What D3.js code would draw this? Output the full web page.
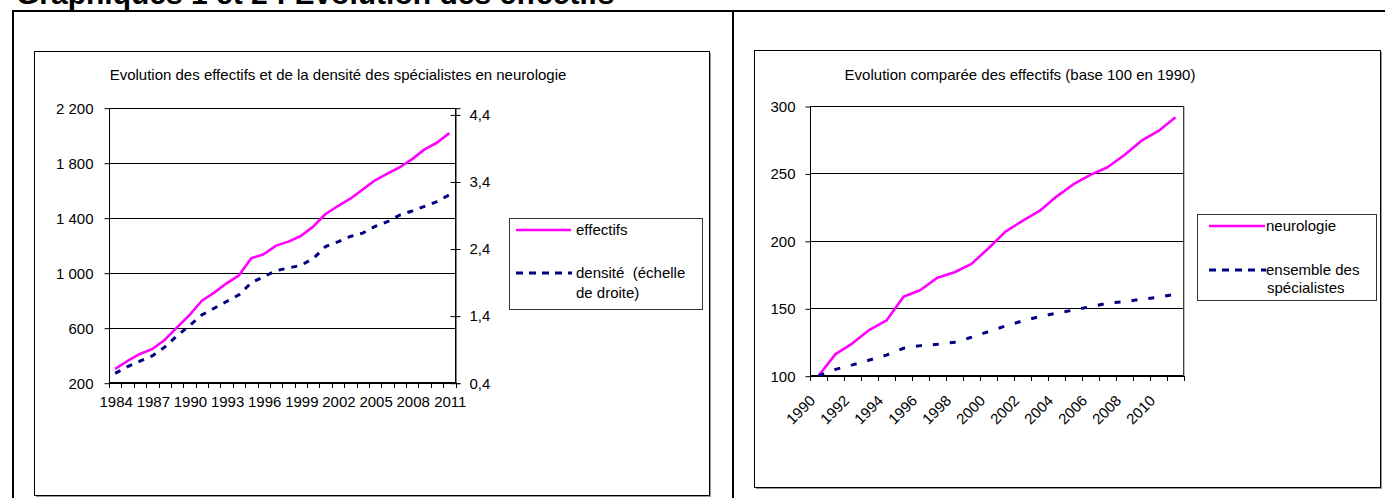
<!DOCTYPE html>
<html><head><meta charset="utf-8">
<script src="https://cdn.jsdelivr.net/npm/d3@7"></script>
<style>
html,body{margin:0;padding:0;background:#fff;overflow:hidden}
text{font-family:"Liberation Sans",Arial,sans-serif;fill:#000}
</style></head><body>
<svg id="c" width="1385" height="498"></svg>
<script>
// ---------- DATA ----------
const yearsLeft = [1984,1985,1986,1987,1988,1989,1990,1991,1992,1993,1994,1995,1996,1997,1998,1999,2000,2001,2002,2003,2004,2005,2006,2007,2008,2009,2010,2011];
const effectifs = [300,358,409,445,511,603,692,796,855,923,981,1105,1134,1197,1226,1267,1335,1427,1485,1538,1605,1672,1720,1767,1826,1897,1945,2015];
const densite   = [0.54,0.64,0.72,0.80,0.93,1.10,1.25,1.41,1.51,1.61,1.71,1.89,1.98,2.07,2.11,2.15,2.25,2.43,2.50,2.58,2.63,2.73,2.80,2.90,2.96,3.03,3.10,3.20];
const leftLabelYears = [1984,1987,1990,1993,1996,1999,2002,2005,2008,2011];
const leftTicks  = [200,600,1000,1400,1800,2200];
const rightTicks = [0.4,1.4,2.4,3.4,4.4];

const yearsRight = [1990,1991,1992,1993,1994,1995,1996,1997,1998,1999,2000,2001,2002,2003,2004,2005,2006,2007,2008,2009,2010,2011];
const neurologie = [100,116,124,134,141,158.6,163.6,172.7,176.7,182.9,194.5,206.8,214.8,222.2,232.8,242,248.9,254.6,263.7,274.3,281.5,291.7];
const ensemble   = [100,104.7,108,111.6,115.3,120.3,122.3,123.3,124.8,128.5,132.7,136.9,140.6,143.8,146.3,148.7,151.2,153.7,154.9,156.7,158.2,160.4];
const rightLabelYears = [1990,1992,1994,1996,1998,2000,2002,2004,2006,2008,2010];
const indexTicks = [100,150,200,250,300];

const pageTitle = "Graphiques 1 et 2 : Evolution des effectifs";
const title1 = "Evolution des effectifs et de la densité des spécialistes en neurologie";
const title2 = "Evolution comparée des effectifs (base 100 en 1990)";

// ---------- DRAW ----------
const svg = d3.select("#c");
const PINK = "#ff00ff", NAVY = "#000080";
const FS = 15;
const FF = "Liberation Sans, Arial, sans-serif";
const loc = d3.formatLocale({decimal:",", thousands:" ", grouping:[3], currency:["",""]});

svg.append("rect").attr("width",1385).attr("height",498).attr("fill","#fff");

// page header (cut by the top edge, as in the source)
svg.append("text").attr("x",16).attr("y",4).attr("font-size",30).attr("font-weight","bold").text(pageTitle);

// table lines
const tbl = svg.append("g").attr("stroke","#000").attr("stroke-width",2);
tbl.append("line").attr("x1",12).attr("x2",1385).attr("y1",11).attr("y2",11);
tbl.append("line").attr("x1",13).attr("x2",13).attr("y1",10).attr("y2",498);
tbl.append("line").attr("x1",733).attr("x2",733).attr("y1",10).attr("y2",498);

function chartBox(x0,y0,x1,y1){
  svg.append("rect").attr("x",x0+2).attr("y",y0+2).attr("width",x1-x0).attr("height",y1-y0).attr("fill","#999");
  svg.append("rect").attr("x",x0+0.5).attr("y",y0+0.5).attr("width",x1-x0).attr("height",y1-y0).attr("fill","#fff").attr("stroke","#000");
}
chartBox(34,51,709,495);
chartBox(754,50,1380,487);

// ======== LEFT CHART ========
{
  const x = d3.scaleBand().domain(yearsLeft).range([109,455.5]);
  const yL = d3.scaleLinear().domain([200,2200]).range([382.7,107.7]);
  const yR = d3.scaleLinear().domain([0.4,4.5]).range([382.7,107.7]);
  const g = svg.append("g");
  const cx = d => x(d) + x.bandwidth()/2;

  g.append("text").attr("x",338).attr("y",80).attr("text-anchor","middle").attr("font-size",FS).text(title1);

  g.append("g").selectAll("line").data(leftTicks).join("line")
    .attr("x1",109).attr("x2",455.5).attr("y1",d=>Math.round(yL(d))+0.5).attr("y2",d=>Math.round(yL(d))+0.5)
    .attr("stroke","#000").attr("stroke-width",1);
  g.append("rect").attr("x",109.5).attr("y",108.5).attr("width",346).attr("height",274).attr("fill","none").attr("stroke","#000");

  const ax = g.append("g").attr("transform","translate(109.5,0.5)")
    .call(d3.axisLeft(yL).tickValues(leftTicks).tickSize(5).tickPadding(11).tickFormat(loc.format(",")));
  ax.select(".domain").remove();
  ax.selectAll("line").attr("stroke","#000");
  ax.selectAll("text").attr("font-size",FS).attr("font-family",FF);

  const ar = g.append("g").attr("transform","translate(455.5,0.5)")
    .call(d3.axisRight(yR).tickValues(rightTicks).tickSize(5).tickPadding(9).tickFormat(loc.format(".1f")));
  ar.select(".domain").attr("stroke","#000");
  ar.selectAll(".tick line").attr("x1",-5).attr("x2",5).attr("stroke","#000");
  ar.selectAll("text").attr("font-size",FS).attr("font-family",FF);

  const bounds = yearsLeft.map(d=>x(d)).concat([x.range()[1]]);
  g.append("g").selectAll("line").data(bounds).join("line")
    .attr("x1",d=>Math.round(d)+0.5).attr("x2",d=>Math.round(d)+0.5).attr("y1",382.7).attr("y2",388)
    .attr("stroke","#000");
  const axb = g.append("g").attr("transform","translate(1,383)")
    .call(d3.axisBottom(x).tickValues(leftLabelYears).tickSize(0).tickPadding(13));
  axb.select(".domain").remove();
  axb.selectAll("text").attr("font-size",FS).attr("font-family",FF);

  g.append("path").datum(effectifs).attr("fill","none").attr("stroke",PINK).attr("stroke-width",2.6)
    .attr("stroke-linejoin","round")
    .attr("d", d3.line().x((d,i)=>cx(yearsLeft[i])).y(d=>yL(d)));
  g.append("path").datum(densite).attr("fill","none").attr("stroke",NAVY).attr("stroke-width",3)
    .attr("stroke-dasharray","6,7")
    .attr("d", d3.line().x((d,i)=>cx(yearsLeft[i])).y(d=>yR(d)));

  g.append("rect").attr("x",509.5).attr("y",218.5).attr("width",193).attr("height",91).attr("fill","#fff").attr("stroke","#333");
  g.append("line").attr("x1",516).attr("x2",571).attr("y1",230).attr("y2",230).attr("stroke",PINK).attr("stroke-width",2.6);
  g.append("text").attr("x",576).attr("y",235).attr("font-size",FS).text("effectifs");
  g.append("line").attr("x1",516).attr("x2",572).attr("y1",273).attr("y2",273).attr("stroke",NAVY).attr("stroke-width",3).attr("stroke-dasharray","7,6");
  g.append("text").attr("x",576).attr("y",278).attr("font-size",FS).attr("xml:space","preserve").text("densité  (échelle");
  g.append("text").attr("x",576).attr("y",298).attr("font-size",FS).text("de droite)");
}

// ======== RIGHT CHART ========
{
  const x = d3.scaleBand().domain(yearsRight).range([810,1184]);
  const y = d3.scaleLinear().domain([100,300]).range([375.7,106]);
  const g = svg.append("g");
  const cx = d => x(d) + x.bandwidth()/2;

  g.append("text").attr("x",1020).attr("y",80).attr("text-anchor","middle").attr("font-size",FS).text(title2);

  g.append("g").selectAll("line").data(indexTicks).join("line")
    .attr("x1",810).attr("x2",1184).attr("y1",d=>Math.round(y(d))+0.5).attr("y2",d=>Math.round(y(d))+0.5)
    .attr("stroke","#000");
  g.append("rect").attr("x",810.5).attr("y",106.5).attr("width",373).attr("height",269).attr("fill","none").attr("stroke","#000");
  g.append("line").attr("x1",1184).attr("x2",1184).attr("y1",106).attr("y2",376).attr("stroke","#808080");

  const ay = g.append("g").attr("transform","translate(810.5,0.5)")
    .call(d3.axisLeft(y).tickValues(indexTicks).tickSize(5).tickPadding(10));
  ay.select(".domain").remove();
  ay.selectAll("line").attr("stroke","#000");
  ay.selectAll("text").attr("font-size",FS).attr("font-family",FF);

  const bounds = yearsRight.map(d=>x(d)).concat([x.range()[1]]);
  g.append("g").selectAll("line").data(bounds).join("line")
    .attr("x1",d=>Math.round(d)+0.5).attr("x2",d=>Math.round(d)+0.5).attr("y1",376).attr("y2",381)
    .attr("stroke","#000");

  g.append("g").selectAll("text").data(rightLabelYears).join("text")
    .attr("transform",d=>`translate(${cx(d)-6},${398}) rotate(-45)`)
    .attr("text-anchor","end").attr("dy","0.35em").attr("font-size",FS).text(d=>d);

  g.append("path").datum(neurologie).attr("fill","none").attr("stroke",PINK).attr("stroke-width",2.6)
    .attr("stroke-linejoin","round")
    .attr("d", d3.line().x((d,i)=>cx(yearsRight[i])).y(d=>y(d)));
  g.append("path").datum(ensemble).attr("fill","none").attr("stroke",NAVY).attr("stroke-width",3)
    .attr("stroke-dasharray","6,11")
    .attr("d", d3.line().x((d,i)=>cx(yearsRight[i])).y(d=>y(d)));

  g.append("rect").attr("x",1197.5).attr("y",214.5).attr("width",179).attr("height",86).attr("fill","#fff").attr("stroke","#333");
  g.append("line").attr("x1",1209).attr("x2",1265).attr("y1",226).attr("y2",226).attr("stroke",PINK).attr("stroke-width",2.6);
  g.append("text").attr("x",1266).attr("y",231).attr("font-size",FS).text("neurologie");
  g.append("line").attr("x1",1209).attr("x2",1266).attr("y1",270).attr("y2",270).attr("stroke",NAVY).attr("stroke-width",3).attr("stroke-dasharray","7,6");
  g.append("text").attr("x",1266).attr("y",275).attr("font-size",FS).text("ensemble des");
  g.append("text").attr("x",1267).attr("y",293).attr("font-size",FS).text("spécialistes");
}
</script></body></html>
